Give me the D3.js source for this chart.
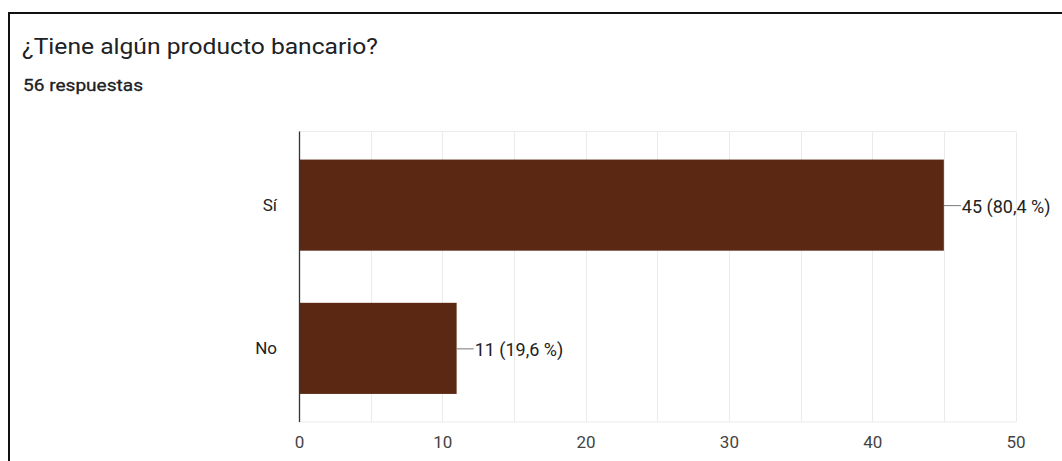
<!DOCTYPE html>
<html><head><meta charset="utf-8">
<script src="https://cdn.jsdelivr.net/npm/d3@7"></script>
<style>
body{margin:0;background:#fff;}
svg{display:block;font-family:Roboto,"Liberation Sans",Arial,sans-serif;}
</style></head>
<body><svg id="c" width="1062" height="461"></svg>
<script>
const categories = ["Sí", "No"];
const values = [45, 11];
const percents = ["80,4", "19,6"];
const xTicks = [0, 10, 20, 30, 40, 50];
const gridTicks = [0,5,10,15,20,25,30,35,40,45,50];
const title = "¿Tiene algún producto bancario?";
const subtitle = "56 respuestas";

(function(){
const FF = "Roboto,'Liberation Sans',Arial,sans-serif";
const svg = d3.select("#c");
// frame
svg.append("line").attr("x1",8).attr("x2",1062).attr("y1",13).attr("y2",13).attr("stroke","#111").attr("stroke-width",2);
svg.append("line").attr("x1",9).attr("x2",9).attr("y1",12).attr("y2",461).attr("stroke","#111").attr("stroke-width",2);

svg.append("text").attr("x",22).attr("y",54).attr("font-size",22).attr("fill","#202124")
  .attr("textLength",356).attr("lengthAdjust","spacingAndGlyphs").text(title);
svg.append("text").attr("x",23).attr("y",91).attr("font-size",16.5).attr("font-weight",400).attr("fill","#202124")
  .attr("stroke","#202124").attr("stroke-width",0.3)
  .attr("textLength",120).attr("lengthAdjust","spacingAndGlyphs").text(subtitle);

const pL=299, pR=1015.5, pT=131.5, pB=422;
const x = d3.scaleLinear().domain([0,50]).range([pL,pR]);
const y = d3.scaleBand().domain(categories).range([pT,pB]).paddingInner(0.364).paddingOuter(0.196);

const g = svg.append("g");
// grid
g.selectAll("line.grid").data(gridTicks).enter().append("line")
 .attr("x1",d=>Math.round(x(d))+0.5).attr("x2",d=>Math.round(x(d))+0.5)
 .attr("y1",pT).attr("y2",pB).attr("stroke","#ebebeb").attr("stroke-width",1);
g.append("line").attr("x1",pL).attr("x2",pR).attr("y1",pT).attr("y2",pT).attr("stroke","#ebebeb");
g.append("line").attr("x1",pL).attr("x2",pR).attr("y1",pB).attr("y2",pB).attr("stroke","#ebebeb");

// bars
g.selectAll("rect.bar").data(values).enter().append("rect")
 .attr("x",x(0)).attr("y",(d,i)=>y(categories[i]))
 .attr("width",d=>x(d)-x(0)).attr("height",y.bandwidth())
 .attr("fill","#5b2814");

// axis line
g.append("line").attr("x1",pL+0.5).attr("x2",pL+0.5).attr("y1",pT).attr("y2",pB).attr("stroke","#333").attr("stroke-width",1.3);

// x tick labels
const xAxis = d3.axisBottom(x).tickValues(xTicks).tickSize(0).tickPadding(0);
const ax = svg.append("g").attr("transform",`translate(0,436)`).call(xAxis);
ax.select(".domain").remove();
ax.selectAll("text").attr("font-size",17).attr("fill","#444").attr("font-family",FF);

// y labels
const yAxis = d3.axisLeft(y).tickSize(0).tickPadding(0);
const ay = svg.append("g").attr("transform",`translate(277,0)`).call(yAxis);
ay.select(".domain").remove();
ay.selectAll("text").attr("font-size",17).attr("fill","#222").attr("font-family",FF);

// value labels
values.forEach((v,i)=>{
  const cy = y(categories[i]) + y.bandwidth()/2;
  g.append("line").attr("x1",x(v)).attr("x2",x(v)+17).attr("y1",cy+0.5).attr("y2",cy+0.5).attr("stroke","#777").attr("stroke-width",1);
  g.append("text").attr("x",x(v)+18).attr("y",cy+8).attr("font-size",18).attr("fill","#222").text(`${v} (${percents[i]} %)`);
});
})();
</script></body></html>
